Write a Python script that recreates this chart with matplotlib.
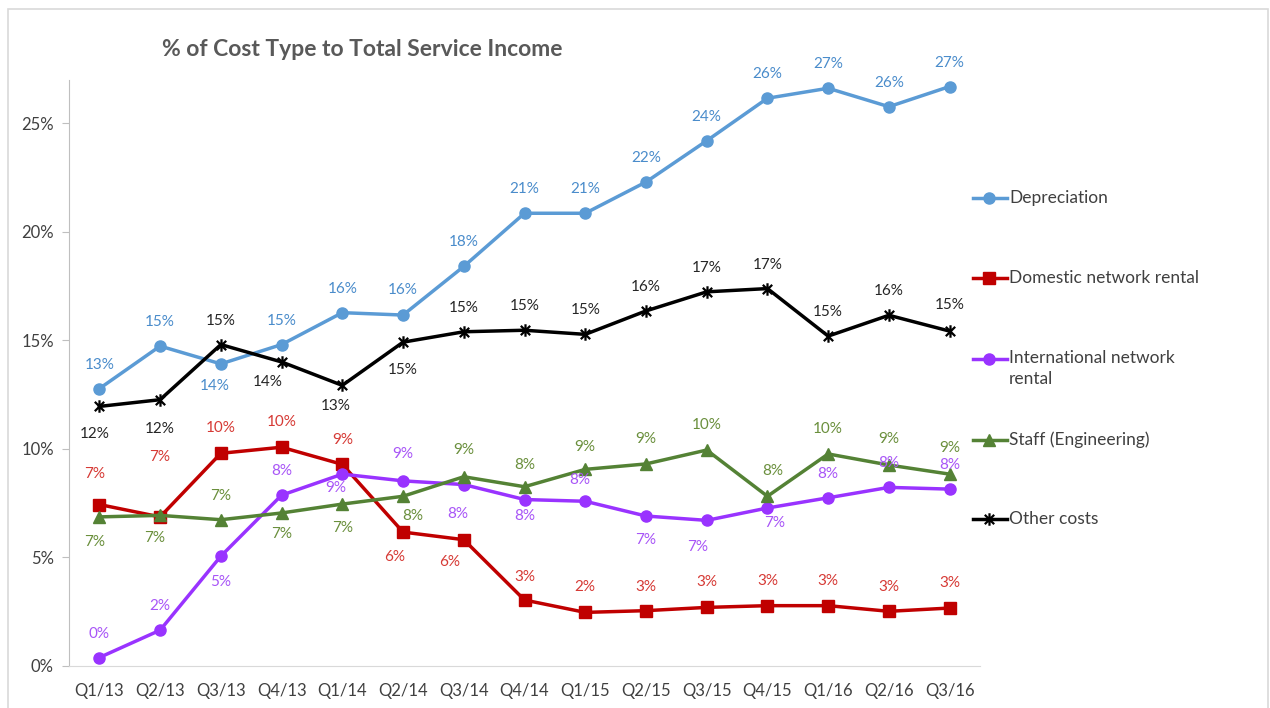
import numpy as np
import matplotlib
matplotlib.use("Agg")
import matplotlib.pyplot as plt
from matplotlib.lines import Line2D
from matplotlib.patches import Rectangle
from matplotlib.path import Path

plt.rcParams['font.family'] = ['Lato', 'DejaVu Sans']

#data (values in %)
quarters = ['Q1/13', 'Q2/13', 'Q3/13', 'Q4/13', 'Q1/14', 'Q2/14', 'Q3/14', 'Q4/14',
            'Q1/15', 'Q2/15', 'Q3/15', 'Q4/15', 'Q1/16', 'Q2/16', 'Q3/16']
depreciation = [12.78, 14.74, 13.92, 14.81, 16.28, 16.17, 18.41, 20.86,
                20.86, 22.30, 24.20, 26.16, 26.62, 25.77, 26.70]
domestic = [7.44, 6.87, 9.80, 10.08, 9.29, 6.17, 5.82, 3.04,
            2.47, 2.55, 2.70, 2.78, 2.78, 2.52, 2.67]
international = [0.39, 1.65, 5.06, 7.87, 8.84, 8.53, 8.36, 7.67,
                 7.59, 6.91, 6.71, 7.28, 7.75, 8.23, 8.15]
staff = [6.87, 6.94, 6.74, 7.05, 7.46, 7.82, 8.72, 8.26,
         9.06, 9.31, 9.95, 7.82, 9.77, 9.26, 8.84]
other = [11.96, 12.27, 14.81, 14.01, 12.93, 14.92, 15.40, 15.47,
         15.28, 16.36, 17.24, 17.39, 15.20, 16.16, 15.43]
yticks = [0, 5, 10, 15, 20, 25]

#label offsets in pixels (+ up / - down), a few also shifted sideways
dep_dy = [24, 24, -22, 24, 24, 25, 24, 24, 24, 24, 24, 24, 24, 24, 24]
dom_dy = [31, 60, 25, 25, 24, -25, -22, 23, 25, 24, 25, 25, 25, 24, 25]
int_dy = [24, 24, -26, 24, -14, 27, -29, -16, 21, -24, -27, -15, 24, 24, 24]
stf_dy = [-25, -23, 24, -21, -24, -20, 27, 22, 22, 25, 25, 25, 25, 26, 26]
oth_dy = [-28, -29, 24, -20, -21, -28, 24, 24, 24, 24, 24, 24, 24, 24, 26]
dep_dx = {2: -6}
dom_dx = {0: -5, 5: -8, 6: -14}
int_dx = {4: -7, 6: -6, 10: -9, 11: 7, 8: -5}
stf_dx = {0: -5, 1: -5, 5: 10, 11: 5}
oth_dx = {0: -5, 3: -14, 4: -7}

star = Path([(0, -1), (0, 1), (-0.75, -0.75), (0.75, 0.75), (-0.75, 0.75), (0.75, -0.75)],
            [Path.MOVETO, Path.LINETO, Path.MOVETO, Path.LINETO, Path.MOVETO, Path.LINETO])

series = [
    ('Depreciation', depreciation, '#5B9BD5', '#4A8CCB', 'o', 8, dep_dy, dep_dx),
    ('Domestic network rental', domestic, '#C00000', '#D63A35', 's', 8, dom_dy, dom_dx),
    ('International network\nrental', international, '#9933FF', '#A855F7', 'o', 8, int_dy, int_dx),
    ('Staff (Engineering)', staff, '#548235', '#6A8F3C', '^', 8, stf_dy, stf_dx),
    ('Other costs', other, '#000000', '#262626', star, 9, oth_dy, oth_dx),
]

W, H = 1270, 708
fig = plt.figure(figsize=(12.7, 7.08), dpi=100)
fig.add_artist(Rectangle((8 / W, -0.01), 1260 / W, 1 - 9 / H + 0.01, transform=fig.transFigure,
                         facecolor='none', edgecolor='#D9D9D9', linewidth=1.2))

ax = fig.add_axes([69 / W, 1 - 666 / H, 911 / W, 586 / H])
x = np.arange(len(quarters))

for name, vals, col, lcol, mk, ms, dys, dxs in series:
    ax.plot(x, vals, color=col, linewidth=2.5, marker=mk, markersize=ms,
            markeredgewidth=1.6 if mk is star else 1, markeredgecolor=col, markerfacecolor=col,
            solid_joinstyle='round', zorder=3)
    for i, v in enumerate(vals):
        ax.annotate(f'{v:.0f}%', (x[i], v), xytext=(dxs.get(i, 0) * 0.72, dys[i] * 0.72),
                    textcoords='offset points', ha='center', va='center',
                    fontsize=11, color=lcol, zorder=4)

ax.set_xlim(-0.5, len(quarters) - 0.5)
ax.set_ylim(0, 27.0)
ax.set_yticks(yticks)
ax.set_yticklabels([f'{t}%' for t in yticks])
ax.set_xticks(x)
ax.set_xticklabels(quarters)
ax.tick_params(axis='y', length=5, width=0.8, color='#BFBFBF', labelsize=12, labelcolor='#404040', pad=6)
ax.tick_params(axis='x', length=0, labelsize=12, labelcolor='#404040', pad=12)
for s in ['top', 'right']:
    ax.spines[s].set_visible(False)
ax.spines['left'].set_color('#BFBFBF')
ax.spines['bottom'].set_color('#D9D9D9')

fig.text(362 / W, 1 - 50 / H, '% of Cost Type to Total Service Income', ha='center', va='center',
         fontsize=16.5, fontweight='bold', color='#595959')

#legend drawn by hand to keep Excel spacing
leg_y = [198, 278, 359, 440, 519]
for (name, vals, col, lcol, mk, ms, dys, dxs), ly in zip(series, leg_y):
    yf = 1 - ly / H
    fig.add_artist(Line2D([973 / W, 1007 / W], [yf, yf], color=col, linewidth=2.5,
                          transform=fig.transFigure))
    fig.add_artist(Line2D([989 / W], [yf], marker=mk, markersize=ms, color=col,
                          markeredgewidth=1.6 if mk is star else 1, transform=fig.transFigure))
    if '\n' in name:
        fig.text(1009 / W, yf + 9 / H, name, ha='left', va='top',
                 fontsize=12.5, color='#404040', linespacing=1.35)
    else:
        fig.text(1009 / W, yf, name, ha='left', va='center', fontsize=12.5, color='#404040')

fig.savefig('out.png', dpi=100)
